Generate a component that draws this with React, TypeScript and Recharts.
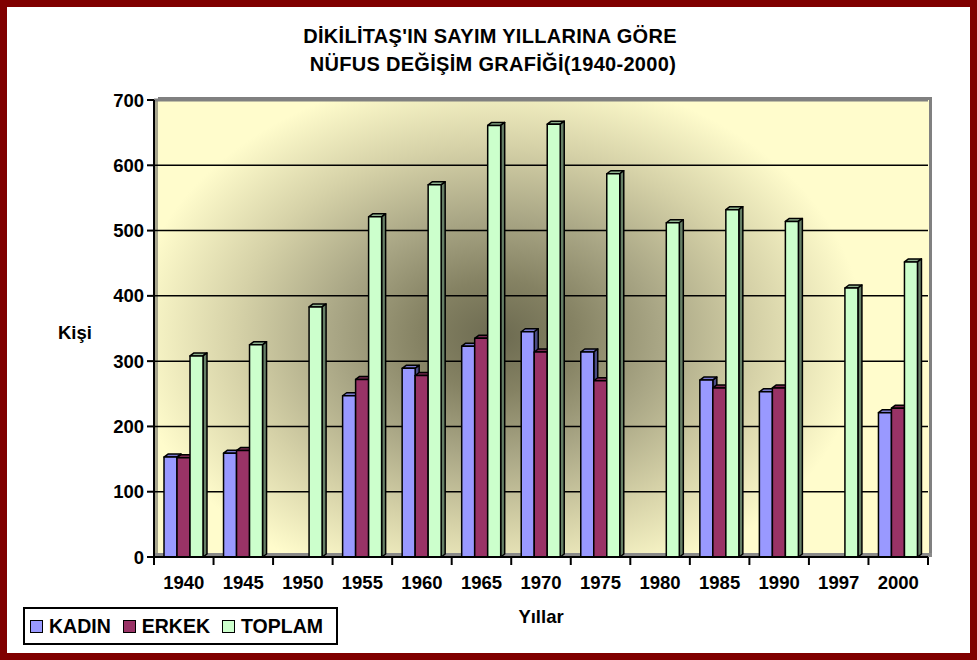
import React from 'react';
import { BarChart, Bar, XAxis, YAxis, CartesianGrid, ReferenceLine } from 'recharts';

const years = ['1940', '1945', '1950', '1955', '1960', '1965', '1970', '1975', '1980', '1985', '1990', '1997', '2000'];
const kadin = [153, 159, null, 247, 289, 323, 345, 314, null, 271, 253, null, 221];
const erkek = [152, 163, null, 272, 278, 335, 314, 270, null, 259, 259, null, 228];
const toplam = [308, 325, 383, 521, 570, 661, 663, 587, 512, 532, 514, 412, 452];
const yTicks = [0, 100, 200, 300, 400, 500, 600, 700];

const data = years.map((year, i) => ({
  year,
  kadin: kadin[i],
  erkek: erkek[i],
  toplam: toplam[i],
}));

const FONT = '"Liberation Sans", Arial, sans-serif';
const W = 977;
const H = 660;
const PLOT_LEFT = 154;
const PLOT_TOP = 100;
const PLOT_RIGHT = 928;
const PLOT_BOTTOM = 557;
const PLOT_W = PLOT_RIGHT - PLOT_LEFT;
const DEPTH_X = 4;
const DEPTH_Y = 3;

const series = [
  { key: 'kadin', name: 'KADIN', fill: '#9999FF', top: '#7777cc', side: '#4c4c85' },
  { key: 'erkek', name: 'ERKEK', fill: '#993366', top: '#7a2950', side: '#4d1a33' },
  { key: 'toplam', name: 'TOPLAM', fill: '#CCFFCC', top: '#8fb38f', side: '#667f66' },
];

function Bar3D(props: any) {
  const { x, y, width, height, fill, topFill, sideFill } = props;
  if (!height || height <= 0) return null;
  const r = x + width;
  const b = y + height;
  return (
    <g stroke="#000" strokeWidth={1.5} strokeLinejoin="round">
      <polygon points={`${x},${y} ${x + DEPTH_X},${y - DEPTH_Y} ${r + DEPTH_X},${y - DEPTH_Y} ${r},${y}`} fill={topFill} />
      <polygon points={`${r},${y} ${r + DEPTH_X},${y - DEPTH_Y} ${r + DEPTH_X},${b - DEPTH_Y} ${r},${b}`} fill={sideFill} />
      <rect x={x} y={y} width={width} height={height} fill={fill} />
    </g>
  );
}

function YearTick(props: any) {
  const { x, y, payload, index } = props;
  const half = PLOT_W / years.length / 2;
  return (
    <g>
      <line x1={x - half} x2={x - half} y1={y - 8} y2={y} stroke="#000" strokeWidth={2} />
      {index === years.length - 1 && (
        <line x1={x + half} x2={x + half} y1={y - 8} y2={y} stroke="#000" strokeWidth={2} />
      )}
      <text x={x} y={y + 24} textAnchor="middle" fontFamily={FONT} fontWeight="bold" fontSize={18.5} fill="#000">
        {payload.value}
      </text>
    </g>
  );
}

export default function App() {
  return (
    <div style={{ position: 'absolute', left: 0, top: 0, width: W, height: H, fontFamily: FONT }}>
      <div
        style={{
          position: 'absolute',
          inset: 0,
          border: '7px solid #800000',
          boxSizing: 'border-box',
          background: '#fff',
        }}
      />
      {/* back wall */}
      <div
        style={{
          position: 'absolute',
          left: PLOT_LEFT + DEPTH_X,
          top: PLOT_TOP - DEPTH_Y,
          width: PLOT_W,
          height: PLOT_BOTTOM - PLOT_TOP,
          boxSizing: 'border-box',
          borderTop: '3px solid #808080',
          borderRight: '3px solid #808080',
          background: 'radial-gradient(ellipse 50% 62% at 44% 52%, #6c6a50 0%, #858263 20%, #a9a685 42%, #d6d2a8 68%, #fffccc 95%)',
        }}
      />
      <div style={{ position: 'absolute', left: PLOT_LEFT, top: PLOT_TOP, width: DEPTH_X, height: PLOT_BOTTOM - PLOT_TOP, background: '#a8a68e' }} />
      <div style={{ position: 'absolute', left: PLOT_LEFT, top: PLOT_BOTTOM - DEPTH_Y - 1, width: PLOT_W + DEPTH_X, height: DEPTH_Y + 1, background: '#8a8a8a' }} />

      <div style={{ position: 'absolute', left: 0, top: 0 }}>
        <BarChart
          width={W}
          height={H}
          data={data}
          margin={{ top: PLOT_TOP, right: W - PLOT_RIGHT, bottom: H - PLOT_BOTTOM - 40, left: PLOT_LEFT - 60 }}
          barSize={13}
          barGap={0}
        >
          <CartesianGrid vertical={false} stroke="#000" strokeWidth={1.5} fill="none" />
          <ReferenceLine y={700} stroke="#808080" strokeWidth={3} />
          <XAxis
            dataKey="year"
            interval={0}
            height={40}
            tickLine={false}
            tickSize={8}
            tickMargin={0}
            axisLine={{ stroke: '#000', strokeWidth: 2 }}
            tick={<YearTick />}
          />
          <YAxis
            width={60}
            domain={[0, 700]}
            ticks={yTicks}
            interval={0}
            tickSize={7}
            tickMargin={3}
            axisLine={{ stroke: '#000', strokeWidth: 2 }}
            tickLine={{ stroke: '#000', strokeWidth: 2 }}
            tick={{ fill: '#000', fontSize: 18.5, fontWeight: 'bold', fontFamily: FONT }}
          />
          {series.map((s) => (
            <Bar
              key={s.key}
              dataKey={s.key}
              name={s.name}
              fill={s.fill}
              isAnimationActive={false}
              shape={(p: any) => <Bar3D {...p} fill={s.fill} topFill={s.top} sideFill={s.side} />}
            />
          ))}
        </BarChart>
      </div>

      <div style={{ position: 'absolute', left: 0, width: 980, top: 22, textAlign: 'center', fontWeight: 'bold', fontSize: 20, lineHeight: '28px', color: '#000', letterSpacing: '0.3px' }}>
        <div>DİKİLİTAŞ'IN SAYIM YILLARINA GÖRE</div>
        <div>&nbsp;NÜFUS DEĞİŞİM GRAFİĞİ(1940-2000)</div>
      </div>

      <div style={{ position: 'absolute', left: 58, top: 322, fontWeight: 'bold', fontSize: 18.5, color: '#000' }}>Kişi</div>
      <div style={{ position: 'absolute', left: PLOT_LEFT, width: PLOT_W, top: 606, textAlign: 'center', fontWeight: 'bold', fontSize: 18.5, color: '#000' }}>Yıllar</div>

      <div
        style={{
          position: 'absolute',
          left: 23,
          top: 607,
          width: 315,
          height: 38,
          boxSizing: 'border-box',
          border: '2px solid #000',
          background: '#fff',
          display: 'flex',
          alignItems: 'center',
          paddingLeft: 5,
        }}
      >
        {series.map((s) => (
          <div key={s.key} style={{ display: 'flex', alignItems: 'center', marginRight: 12 }}>
            <div style={{ width: 11, height: 11, border: '1px solid #000', background: s.fill, marginRight: 6 }} />
            <span style={{ fontWeight: 'bold', fontSize: 19.5, color: '#000' }}>{s.name}</span>
          </div>
        ))}
      </div>
    </div>
  );
}
